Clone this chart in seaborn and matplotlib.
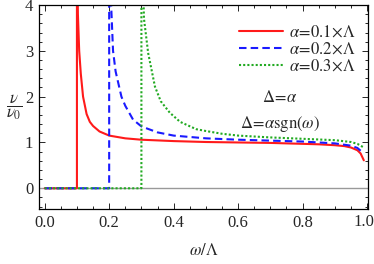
import numpy as np
import pandas as pd
import matplotlib
matplotlib.use('Agg')
import matplotlib.pyplot as plt
from matplotlib.ticker import MultipleLocator
import seaborn as sns

# density of states, omega/Lambda vs nu/nu0
w_01 = [0, 0.1, 0.1, 0.101, 0.103, 0.107, 0.112, 0.119, 0.13, 0.14, 0.15, 0.17, 0.2,
        0.25, 0.3, 0.4, 0.5, 0.6, 0.7, 0.8, 0.85, 0.9, 0.93, 0.95, 0.97, 0.98, 0.99]
nu_01 = [0, 0, 6, 5.0, 3.8, 3.0, 2.5, 2.0, 1.62, 1.45, 1.36, 1.24, 1.15,
         1.09, 1.06, 1.03, 1.01, 1.0, 0.99, 0.97, 0.96, 0.94, 0.92, 0.89, 0.83, 0.76, 0.61]

w_02 = [0, 0.2, 0.2, 0.205, 0.212, 0.22, 0.238, 0.25, 0.274, 0.3, 0.35,
        0.4, 0.45, 0.5, 0.6, 0.7, 0.8, 0.9, 0.95, 0.97, 0.99]
nu_02 = [0, 0, 6, 4.2, 3.0, 2.55, 2.0, 1.8, 1.5, 1.35, 1.22,
         1.15, 1.12, 1.09, 1.06, 1.04, 1.02, 0.98, 0.93, 0.88, 0.76]

w_03 = [0, 0.3, 0.3, 0.305, 0.308, 0.321, 0.342, 0.36, 0.388, 0.42, 0.47, 0.5,
        0.55, 0.6, 0.7, 0.8, 0.9, 0.95, 0.97, 0.99]
nu_03 = [0, 0, 6, 4.5, 3.7, 2.95, 2.22, 1.9, 1.65, 1.45, 1.29, 1.25,
         1.19, 1.15, 1.11, 1.08, 1.05, 1.01, 0.97, 0.89]

labels = [r'$\alpha\!=\!0.1\!\times\!\Lambda$',
          r'$\alpha\!=\!0.2\!\times\!\Lambda$',
          r'$\alpha\!=\!0.3\!\times\!\Lambda$']

sns.set_style('ticks')
plt.rcParams['font.family'] = ['Liberation Serif', 'DejaVu Serif']
plt.rcParams['mathtext.fontset'] = 'stix'

fig = plt.figure(figsize=(3.74, 2.64), dpi=100)
ax = fig.add_axes([0.104, 0.207, 0.880, 0.774])

ax.axhline(0, color='#999999', lw=1.0, zorder=1)

sns.lineplot(x=w_01, y=nu_01, ax=ax, estimator=None, sort=False,
             color='#ff1a1a', lw=1.5, label=labels[0])
sns.lineplot(x=w_02, y=nu_02, ax=ax, estimator=None, sort=False,
             color='#1a1aff', lw=1.5, label=labels[1])
sns.lineplot(x=w_03, y=nu_03, ax=ax, estimator=None, sort=False,
             color='#22aa22', lw=1.5, label=labels[2])
ax.lines[-2].set_dashes((3.6, 2.0))
ax.lines[-1].set_dashes((1.0, 1.0))

ax.set_xlim(-0.018, 1.003)
ax.set_ylim(-0.46, 4.0)
ax.xaxis.set_major_locator(MultipleLocator(0.2))
ax.xaxis.set_minor_locator(MultipleLocator(0.05))
ax.yaxis.set_major_locator(MultipleLocator(1))
ax.yaxis.set_minor_locator(MultipleLocator(0.2))
# the 1.0 label is placed by hand below so it stays inside the figure
ax.xaxis.set_major_formatter(plt.FuncFormatter(
    lambda v, p: '' if v > 0.99 else f'{v:.1f}'))
ax.tick_params(which='both', direction='in', top=True, right=True,
               labelsize=12, width=0.7, pad=4)
ax.tick_params(which='major', length=4)
ax.tick_params(which='minor', length=2)
for s in ax.spines.values():
    s.set_linewidth(0.9)
    s.set_color('black')

ax.text(1.018, -0.022, '1.0', transform=ax.transAxes, fontsize=12,
        ha='right', va='top')

ax.set_xlabel(r'$\omega/\Lambda$', fontsize=12)
ax.xaxis.set_label_coords(0.5, -0.165)
ax.set_ylabel('')
fig.text(0.038, 0.595, r'$\dfrac{\nu}{\nu_0}$', fontsize=12, ha='center', va='center')

ax.text(0.73, 1.96, r'$\Delta\!=\!\alpha$', fontsize=12, ha='center', va='center')
ax.text(0.73, 1.41, r'$\Delta\!=\!\alpha\mathrm{sgn}(\omega)$', fontsize=12,
        ha='center', va='center')

ax.legend(loc='upper right', frameon=False, fontsize=12, handlelength=2.6,
          handletextpad=0.4, labelspacing=0.05, borderaxespad=0.3,
          bbox_to_anchor=(1.0, 0.96))

fig.savefig('out.png', dpi=100)
